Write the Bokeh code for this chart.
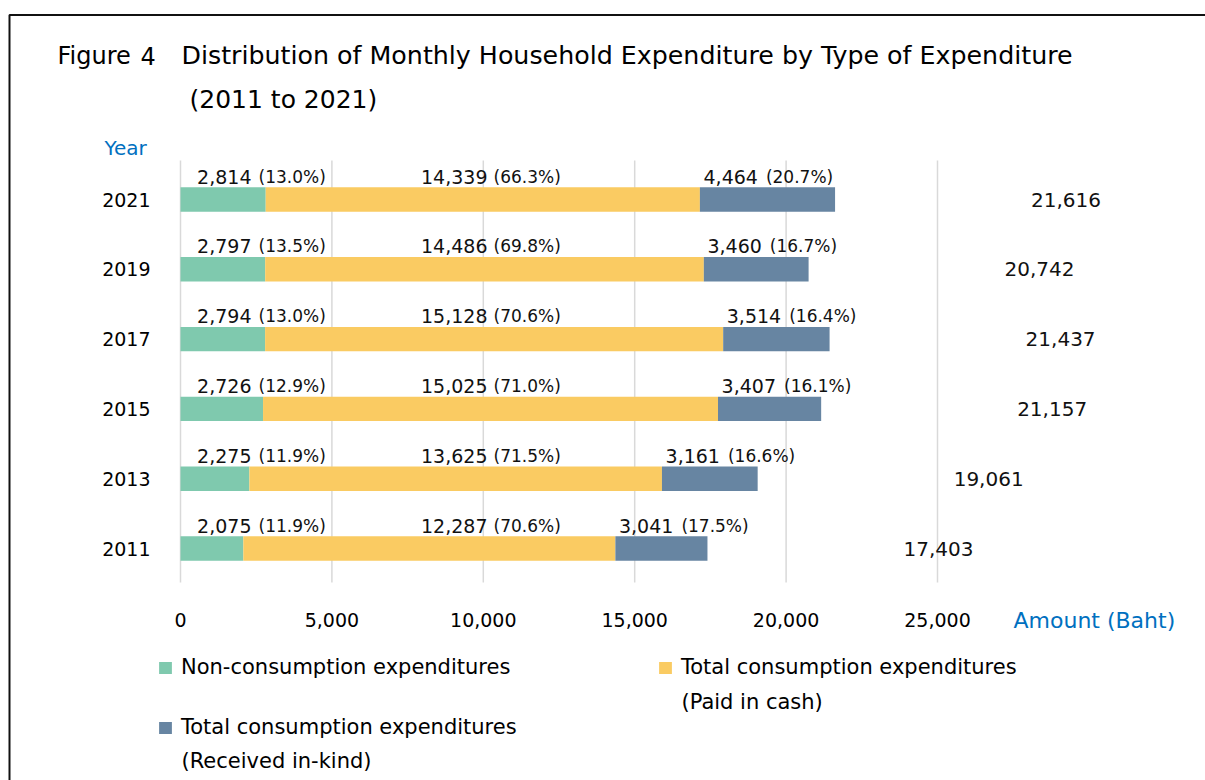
from bokeh.plotting import figure
from bokeh.models import (Range1d, Label, Legend, LegendItem,
                          ColumnDataSource, BoxAnnotation)
from bokeh.core.properties import value
from bokeh.embed import file_html
from bokeh.resources import INLINE

# ---------------- data ----------------
years = ["2011", "2013", "2015", "2017", "2019", "2021"]
non_consumption = [2075, 2275, 2726, 2794, 2797, 2814]
paid_in_cash = [12287, 13625, 15025, 15128, 14486, 14339]
received_in_kind = [3041, 3161, 3407, 3514, 3460, 4464]
non_pct = [11.9, 11.9, 12.9, 13.0, 13.5, 13.0]
cash_pct = [70.6, 71.5, 71.0, 70.6, 69.8, 66.3]
kind_pct = [17.5, 16.6, 16.1, 16.4, 16.7, 20.7]
totals = [17403, 19061, 21157, 21437, 20742, 21616]
x_ticks = [0, 5000, 10000, 15000, 20000, 25000]

# ---------------- styles / layout ----------------
GREEN, YELLOW, BLUE = "#7FC9AE", "#FACB62", "#6785A2"
TXT_BLUE = "#0070C0"
GRID = "#d9d9d9"
NUM_FONT = "DejaVu Sans"
TXT_FONT = "DejaVu Sans"

W, H = 1205, 780
X0_PX = 180.0            # pixel of value 0
PX_PER_UNIT = 757.0 / 25000
ROW0_PX = 548.0          # pixel of first row centre
ROW_PX = 69.8            # pixels per row
x_start = -X0_PX / PX_PER_UNIT
x_end = (W - X0_PX) / PX_PER_UNIT
y_top = ROW0_PX / ROW_PX
y_bot = (ROW0_PX - H) / ROW_PX
grid_top = (ROW0_PX - 160) / ROW_PX
grid_bot = (ROW0_PX - 582) / ROW_PX

pos = list(range(len(years)))
cash_right = [a + b for a, b in zip(non_consumption, paid_in_cash)]
kind_right = [c + k for c, k in zip(cash_right, received_in_kind)]

src = ColumnDataSource(dict(
    y=pos, zero=[0] * len(pos), non=non_consumption, cash_r=cash_right,
    kind_r=kind_right, total=totals, year=years,
    non_lbl=[f"{v:,}" for v in non_consumption],
    cash_lbl=[f"{v:,}" for v in paid_in_cash],
    kind_lbl=[f"{v:,}" for v in received_in_kind],
    non_p=[f"({v:.1f}%)" for v in non_pct],
    cash_p=[f"({v:.1f}%)" for v in cash_pct],
    kind_p=[f"({v:.1f}%)" for v in kind_pct],
    total_lbl=[f"{v:,}" for v in totals],
))
tick_src = ColumnDataSource(dict(
    x=x_ticks, y0=[grid_bot] * len(x_ticks), y1=[grid_top] * len(x_ticks),
    lbl=[f"{v:,}" for v in x_ticks],
))

p = figure(width=W, height=H, output_backend="svg", toolbar_location=None,
           x_range=Range1d(x_start, x_end), y_range=Range1d(y_bot, y_top),
           min_border=0, x_axis_location=None, y_axis_location=None)
p.outline_line_color = None
p.grid.grid_line_color = None
p.background_fill_color = "white"
p.border_fill_color = "white"

# vertical grid lines and x tick labels
p.segment(x0="x", x1="x", y0="y0", y1="y1", source=tick_src,
          line_color=GRID, line_width=1.5)
p.text(x="x", y="y0", text="lbl", source=tick_src, y_offset=37,
       text_font=value(NUM_FONT), text_font_size="19px", text_color="black",
       text_align="center", text_baseline="middle")
# year labels
p.text(x="zero", y="y", text="year", source=src, x_offset=-30,
       text_font=value(NUM_FONT), text_font_size="19px", text_color="black",
       text_align="right", text_baseline="middle")

BAR_H = 0.35
r_non = p.hbar(y="y", left="zero", right="non", height=BAR_H, source=src,
               fill_color=GREEN, line_color=None)
r_cash = p.hbar(y="y", left="non", right="cash_r", height=BAR_H, source=src,
                fill_color=YELLOW, line_color=None)
r_kind = p.hbar(y="y", left="cash_r", right="kind_r", height=BAR_H, source=src,
                fill_color=BLUE, line_color=None)

LBL_DY = -23
num_kw = dict(text_font=value(NUM_FONT), text_font_size="19px", text_color="#111111",
              text_baseline="middle", y_offset=LBL_DY, source=src)
pct_kw = dict(text_font=value(NUM_FONT), text_font_size="17px", text_color="#111111",
              text_baseline="middle", y_offset=LBL_DY, source=src)

p.text(x="zero", y="y", text="non_lbl", x_offset=71, text_align="right", **num_kw)
p.text(x="zero", y="y", text="non_p", x_offset=78, text_align="left", **pct_kw)
p.text(x="zero", y="y", text="cash_lbl", x_offset=307, text_align="right", **num_kw)
p.text(x="zero", y="y", text="cash_p", x_offset=313, text_align="left", **pct_kw)
p.text(x="cash_r", y="y", text="kind_lbl", x_offset=58, text_align="right", **num_kw)
p.text(x="cash_r", y="y", text="kind_p", x_offset=66, text_align="left", **pct_kw)
p.text(x="total", y="y", text="total_lbl", x_offset=196, text_align="left",
       text_font=value(NUM_FONT), text_font_size="20px", text_color="#111111",
       text_baseline="middle", source=src)

# frame box (top and left edges visible)
p.add_layout(BoxAnnotation(left=9, right=1400, top=765.5, bottom=-200,
                           left_units="screen", right_units="screen",
                           top_units="screen", bottom_units="screen",
                           fill_alpha=0, line_color="#111111", line_alpha=1.0,
                           line_width=2))


def lab(x, y, text, size, color="black", font=TXT_FONT):
    p.add_layout(Label(x=x, y=y, x_units="screen", y_units="screen", text=text,
                       text_font=font, text_font_size=size, text_color=color,
                       text_baseline="middle", text_align="left"))


lab(57, 725, "Figure", "24px")
lab(140, 725, "4", "24px")
lab(181, 725, "Distribution of Monthly Household Expenditure by Type of Expenditure", "25.3px")
lab(189, 681, "(2011 to 2021)", "25px")
lab(104, 633, "Year", "20px", TXT_BLUE)
lab(1013, 160, "Amount (Baht)", "22px", TXT_BLUE)
lab(681, 79, "(Paid in cash)", "21px")
lab(181, 20, "(Received in-kind)", "21px")


def leg(x, y, text, r):
    lg = Legend(items=[LegendItem(label=value(text), renderers=[r])],
                location=(x, y), orientation="vertical", glyph_width=16,
                glyph_height=15, label_standoff=8, padding=0, margin=0,
                spacing=0, border_line_color=None, background_fill_alpha=0,
                label_text_font=TXT_FONT, label_text_font_size="21px",
                label_text_color="black", label_height=15)
    p.add_layout(lg)


leg(157, 101, "Non-consumption expenditures", r_non)
leg(657, 101, "Total consumption expenditures", r_cash)
leg(157, 41, "Total consumption expenditures", r_kind)

open("out.html", "w").write(file_html(p, INLINE))
